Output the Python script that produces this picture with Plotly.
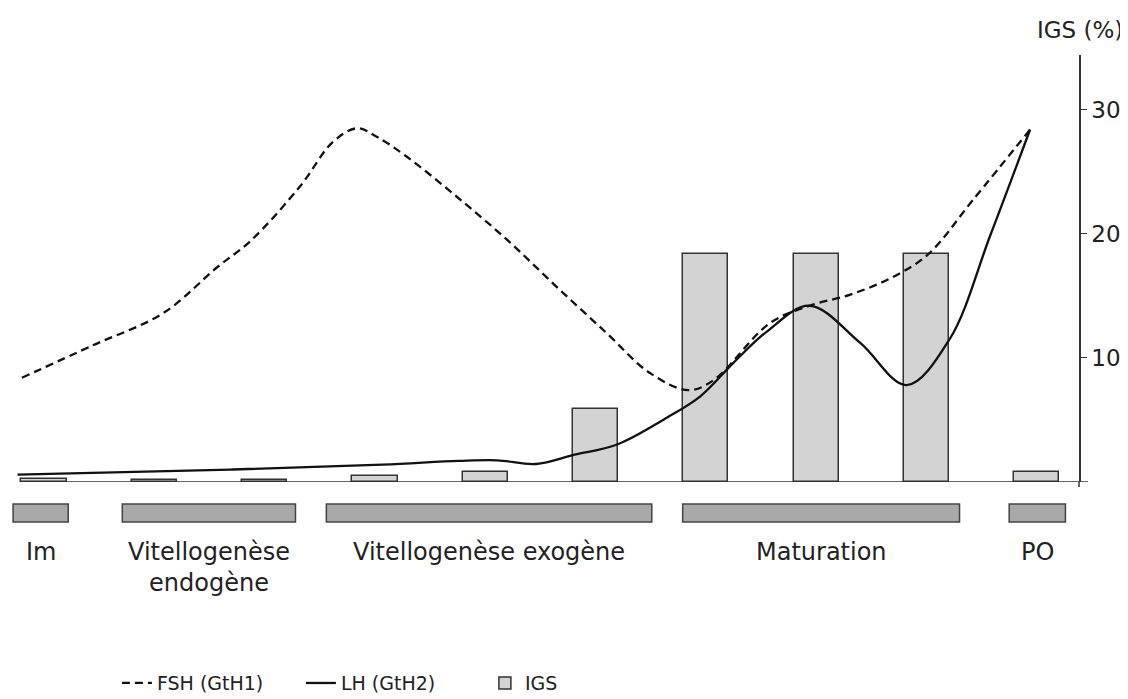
import plotly.graph_objects as go

# ---------------- data ----------------
# IGS bars (10 sampling stages, index positions 0..9)
bar_pos = [0, 1, 2, 3, 4, 5, 6, 7, 8, 9]
igs_vals = [0.25, 0.2, 0.15, 0.5, 0.8, 5.9, 18.4, 18.4, 18.4, 0.8]

# FSH (GtH1) curve, dashed
fsh_x = [-0.20, 0.44, 1.08, 1.57, 1.87, 2.32, 2.62, 2.84, 3.02, 3.29, 3.74,
         4.20, 4.65, 5.10, 5.49, 5.84, 6.07, 6.58, 6.94, 7.31, 7.67, 8.01,
         8.42, 8.94]
fsh_y = [8.4, 11.0, 13.6, 17.3, 19.4, 23.8, 27.4, 28.5, 27.8, 26.2, 23.0,
         19.5, 15.7, 12.0, 8.8, 7.4, 8.2, 12.8, 14.2, 15.1, 16.4, 18.3,
         22.7, 28.4]

# LH (GtH2) curve, solid
lh_x = [-0.24, 1.69, 3.07, 3.76, 4.11, 4.46, 4.81, 5.19, 5.65, 5.95, 6.25,
        6.55, 6.94, 7.40, 7.82, 8.21, 8.58, 8.94]
lh_y = [0.6, 1.0, 1.4, 1.7, 1.75, 1.45, 2.2, 3.0, 5.2, 6.9, 9.6,
        12.1, 14.2, 11.2, 7.8, 11.5, 19.9, 28.4]

# stages (start / end in bar-index units)
stage_names = ["Im", "Vitellogenèse<br>endogène", "Vitellogenèse exogène",
               "Maturation", "PO"]
stage_start = [-0.28, 0.71, 2.56, 5.79, 8.75]
stage_end = [0.22, 2.28, 5.51, 8.30, 9.26]

y_ticks = [10, 20, 30]

# ---------------- figure ----------------
FONT = "DejaVu Sans"
TXT = "#222222"

fig = go.Figure()

fig.add_trace(go.Bar(
    x=bar_pos, y=igs_vals, width=0.41, name="IGS",
    marker=dict(color="#d3d3d3", line=dict(color="#333333", width=1.5)),
    legendrank=3,
))
fig.add_trace(go.Scatter(
    x=fsh_x, y=fsh_y, mode="lines", name="FSH (GtH1)",
    line=dict(color="#111111", width=2.3, dash="8px,5px", shape="spline",
              smoothing=1.0),
    legendrank=1,
))
fig.add_trace(go.Scatter(
    x=lh_x, y=lh_y, mode="lines", name="LH (GtH2)",
    line=dict(color="#111111", width=2.3, shape="spline", smoothing=1.0),
    legendrank=2,
))

shapes = []
# baseline extending slightly beyond the axis
shapes.append(dict(type="line", xref="paper", yref="y", x0=0.0094, x1=1.0084,
                   y0=0, y1=0, line=dict(color="#333333", width=1.5)))
shapes.append(dict(type="line", xref="paper", yref="paper", x0=1, x1=1,
                   y0=-0.012, y1=0, line=dict(color="#333333", width=1.5)))
annotations = []
for name, s, e in zip(stage_names, stage_start, stage_end):
    shapes.append(dict(type="rect", xref="x", yref="paper", x0=s, x1=e,
                       y0=-0.0937, y1=-0.0515,
                       fillcolor="#a9a9a9",
                       line=dict(color="#444444", width=1.5)))
    annotations.append(dict(
        xref="x", yref="paper", x=(s + e) / 2, y=-0.126, yanchor="top",
        text=name, showarrow=False, align="center",
        font=dict(family=FONT, size=24, color=TXT)))

annotations.append(dict(
    xref="paper", yref="paper", x=1.043, y=1.0585, xanchor="right",
    yanchor="middle", text="IGS (%)", showarrow=False,
    font=dict(family=FONT, size=23, color=TXT)))

# page has an 8px body margin: figure is 8px smaller so the plot area lands
# at the same page pixels as the reference
fig.update_layout(
    width=1120, height=691,
    margin=dict(l=2, r=49, t=47, b=217, autoexpand=False),
    plot_bgcolor="white", paper_bgcolor="white",
    showlegend=True,
    legend=dict(orientation="h", x=0.1, y=-0.471, xanchor="left",
                yanchor="middle", traceorder="normal",
                entrywidth=139, entrywidthmode="pixels",
                font=dict(family=FONT, size=19, color=TXT),
                itemwidth=30),
    xaxis=dict(visible=False, range=[-0.308, 9.383]),
    yaxis=dict(side="right", range=[0, 34.4], tickvals=y_ticks,
               showline=True, linecolor="#333333", linewidth=1.5,
               ticks="outside", ticklen=6, tickcolor="#333333",
               showgrid=False, zeroline=False,
               tickfont=dict(family=FONT, size=23, color=TXT)),
    shapes=shapes, annotations=annotations,
    bargap=0,
)

fig.write_html("out.html")
